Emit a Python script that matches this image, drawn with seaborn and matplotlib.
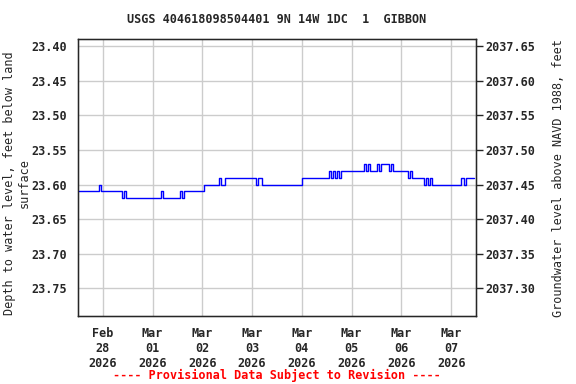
import matplotlib
matplotlib.use("Agg")
import matplotlib.pyplot as plt
import matplotlib.dates as mdates
import numpy as np
import pandas as pd
import seaborn as sns

TITLE = "USGS 404618098504401 9N 14W 1DC  1  GIBBON"
START = "2026-02-27 12:00"

# hourly depth to water (ft below land surface), starting Feb 27 12:00
depth = [
    23.61, 23.61, 23.61, 23.61, 23.61, 23.61, 23.61, 23.61, 23.61, 23.61, 23.60, 23.61,
    23.61, 23.61, 23.61, 23.61, 23.61, 23.61, 23.61, 23.61, 23.61, 23.62, 23.61, 23.62,
    23.62, 23.62, 23.62, 23.62, 23.62, 23.62, 23.62, 23.62, 23.62, 23.62, 23.62, 23.62,
    23.62, 23.62, 23.62, 23.62, 23.61, 23.62, 23.62, 23.62, 23.62, 23.62, 23.62, 23.62,
    23.62, 23.61, 23.62, 23.61, 23.61, 23.61, 23.61, 23.61, 23.61, 23.61, 23.61, 23.61,
    23.61, 23.60, 23.60, 23.60, 23.60, 23.60, 23.60, 23.60, 23.59, 23.60, 23.60, 23.59,
    23.59, 23.59, 23.59, 23.59, 23.59, 23.59, 23.59, 23.59, 23.59, 23.59, 23.59, 23.59,
    23.59, 23.59, 23.60, 23.59, 23.59, 23.60, 23.60, 23.60, 23.60, 23.60, 23.60, 23.60,
    23.60, 23.60, 23.60, 23.60, 23.60, 23.60, 23.60, 23.60, 23.60, 23.60, 23.60, 23.60,
    23.59, 23.59, 23.59, 23.59, 23.59, 23.59, 23.59, 23.59, 23.59, 23.59, 23.59, 23.59,
    23.59, 23.58, 23.59, 23.58, 23.59, 23.58, 23.59, 23.58, 23.58, 23.58, 23.58, 23.58,
    23.58, 23.58, 23.58, 23.58, 23.58, 23.58, 23.57, 23.58, 23.57, 23.58, 23.58, 23.58,
    23.57, 23.58, 23.57, 23.57, 23.57, 23.57, 23.58, 23.57, 23.58, 23.58, 23.58, 23.58,
    23.58, 23.58, 23.58, 23.59, 23.58, 23.59, 23.59, 23.59, 23.59, 23.59, 23.59, 23.60,
    23.59, 23.60, 23.59, 23.60, 23.60, 23.60, 23.60, 23.60, 23.60, 23.60, 23.60, 23.60,
    23.60, 23.60, 23.60, 23.60, 23.60, 23.59, 23.60, 23.59, 23.59, 23.59, 23.59, 23.59,
]

left_ticks = [23.40, 23.45, 23.50, 23.55, 23.60, 23.65, 23.70, 23.75]
right_ticks = [2037.65, 2037.60, 2037.55, 2037.50, 2037.45, 2037.40, 2037.35, 2037.30]
datum_offset = 2061.05  # elevation = offset - depth

df = pd.DataFrame({
    "time": pd.date_range(START, periods=len(depth), freq="h"),
    "depth": depth,
})

sns.set_style("white")
plt.rcParams["font.family"] = ["DejaVu Sans Mono", "DejaVu Sans"]
plt.rcParams["font.weight"] = "bold"

fig = plt.figure(figsize=(5.76, 3.84), dpi=100)
ax = fig.add_axes([0.1354, 0.177, 0.691, 0.721])

sns.lineplot(data=df, x="time", y="depth", color="#0000ff", linewidth=1.0,
             drawstyle="steps-post", ax=ax)

ax.set_xlim(pd.Timestamp("2026-02-27 12:00"), pd.Timestamp("2026-03-07 12:00"))
ax.set_ylim(23.79, 23.39)
ax.set_yticks(left_ticks)
ax.set_yticklabels([f"{v:.2f}" for v in left_ticks], fontsize=8.5)
ax.xaxis.set_major_locator(mdates.DayLocator())
ax.xaxis.set_major_formatter(mdates.DateFormatter("%b\n%d\n%Y"))
ax.tick_params(axis="x", labelsize=8.5, length=0, pad=8)
ax.tick_params(axis="y", length=0, pad=8)
ax.grid(True, color="#cccccc", linewidth=1.0)
ax.set_xlabel("")
ax.set_ylabel("Depth to water level, feet below land\nsurface", fontsize=8.5)
ax.yaxis.set_label_coords(-0.118, 0.48)
for s in ax.spines.values():
    s.set_color("black")
    s.set_linewidth(1.0)

ax2 = ax.twinx()
ax2.set_ylim(datum_offset - 23.79, datum_offset - 23.39)
ax2.set_yticks(right_ticks)
ax2.set_yticklabels([f"{v:.2f}" for v in right_ticks], fontsize=8.5)
ax2.tick_params(axis="y", length=5, width=1, direction="out", right=True, pad=2)
ax2.set_ylabel("Groundwater level above NAVD 1988, feet", fontsize=8.5, labelpad=12)
ax2.grid(False)

fig.text(0.48, 0.948, TITLE, ha="center", va="center", fontsize=8.5, weight="bold")
fig.text(0.48, 0.022, "---- Provisional Data Subject to Revision ----", ha="center",
         va="center", fontsize=8.5, weight="bold", color="red")

fig.savefig("out.png", dpi=100)
